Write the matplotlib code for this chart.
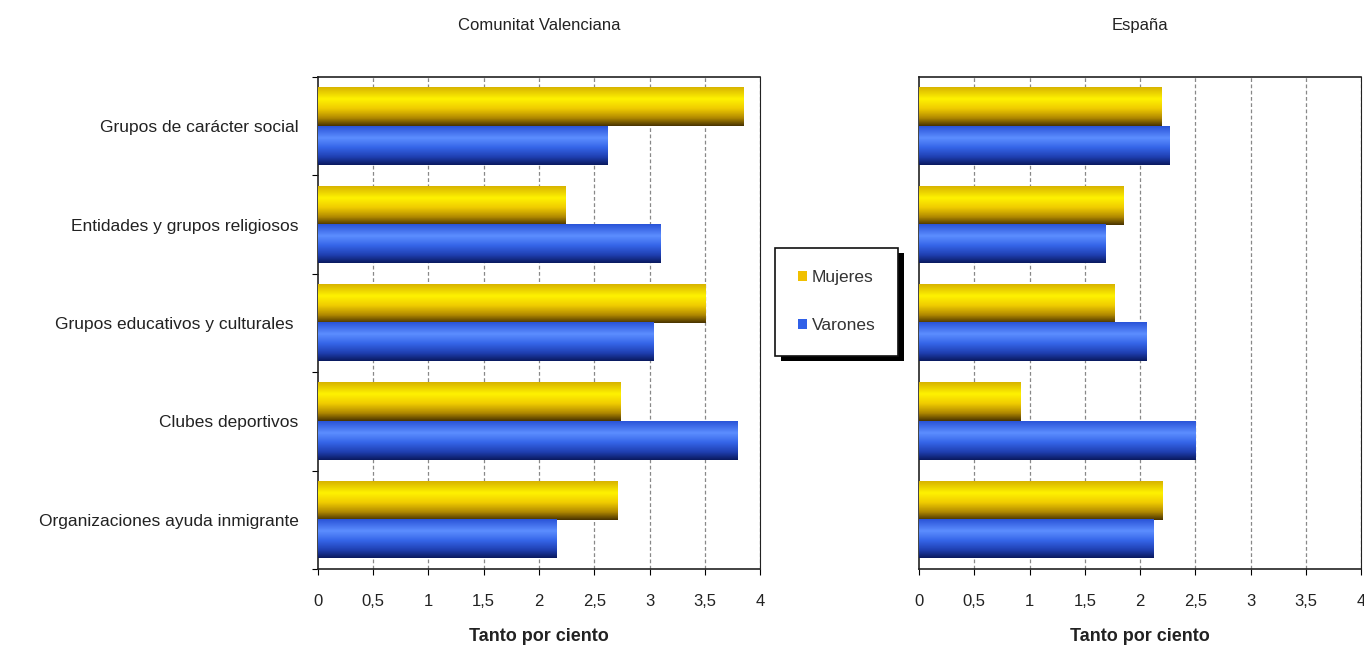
import matplotlib
matplotlib.use("Agg")
import matplotlib.pyplot as plt
import matplotlib.patheffects as pe
import numpy as np
from matplotlib.colors import LinearSegmentedColormap
from matplotlib.patches import Patch

plt.rcParams['font.family'] = ['Liberation Sans', 'DejaVu Sans']

categorias = ['Grupos de carácter social', 'Entidades y grupos religiosos',
              'Grupos educativos y culturales ', 'Clubes deportivos',
              'Organizaciones ayuda inmigrante']
series = ['Mujeres', 'Varones']

cv_mujeres = [3.85, 2.24, 3.51, 2.74, 2.71]
cv_varones = [2.62, 3.10, 3.04, 3.80, 2.16]
es_mujeres = [2.19, 1.85, 1.77, 0.92, 2.20]
es_varones = [2.27, 1.69, 2.06, 2.50, 2.12]

xticks = [0, 0.5, 1, 1.5, 2, 2.5, 3, 3.5, 4]
xticklabels = ['0', '0,5', '1', '1,5', '2', '2,5', '3', '3,5', '4']

# vertical shading for the "3D" bars (top -> bottom)
cmap_yellow = LinearSegmentedColormap.from_list(
    'amarillo', [(0, '#d8b400'), (0.3, '#fff200'), (0.55, '#f0cc00'),
                 (0.8, '#b08800'), (1, '#4a3400')])
cmap_blue = LinearSegmentedColormap.from_list(
    'azul', [(0, '#2a54d8'), (0.3, '#5c8eff'), (0.55, '#3565e8'),
             (0.8, '#1f3fb0'), (1, '#0a1a60')])
grad = np.linspace(0, 1, 64)[:, None]

BAR_H = 0.39
TXT = '#222222'


def shaded_bars(ax, y, values, cmap, color):
    bars = ax.barh(y, values, height=BAR_H, color=color, zorder=2)
    for b in bars:
        x0, y0, w, h = b.get_x(), b.get_y(), b.get_width(), b.get_height()
        # y axis is inverted, so image row 0 lands at the top of the bar
        ax.imshow(grad, cmap=cmap, aspect='auto', interpolation='bilinear',
                  extent=[x0, x0 + w, y0 + h, y0], zorder=3)
    return bars


def panel(ax, mujeres, varones, title, labels):
    y = np.arange(len(categorias))
    shaded_bars(ax, y - BAR_H / 2, mujeres, cmap_yellow, '#f0d000')
    shaded_bars(ax, y + BAR_H / 2, varones, cmap_blue, '#3060e0')
    ax.set_xlim(0, 4)
    ax.set_ylim(len(categorias) - 0.5, -0.5)
    ax.set_xticks(xticks)
    ax.set_xticklabels(xticklabels, fontsize=12, color=TXT)
    for xv in xticks[1:]:
        ax.axvline(xv, color='#888888', lw=0.9, ls=(0, (3, 2)), zorder=1)
    if labels:
        ax.set_yticks(np.arange(len(categorias) + 1) - 0.5)
        ax.set_yticklabels([])
        ax.set_yticks(y, minor=True)
        ax.set_yticklabels(categorias, minor=True, fontsize=12.5, color=TXT)
        ax.tick_params(axis='y', which='minor', length=0, pad=14)
        ax.tick_params(axis='y', which='major', length=4, direction='out')
    else:
        ax.set_yticks([])
    ax.tick_params(axis='x', length=4, direction='out', pad=14)
    ax.set_xlabel('Tanto por ciento', fontsize=13, fontweight='bold',
                  color=TXT, labelpad=14)
    ax.set_title(title, fontsize=12, color=TXT, pad=34)
    for s in ['top', 'left', 'bottom']:
        ax.spines[s].set_color(TXT)
        ax.spines[s].set_linewidth(1.2)
    ax.spines['right'].set_linestyle((0, (2, 1)))
    ax.spines['right'].set_color(TXT)


fig = plt.figure(figsize=(13.64, 6.49), dpi=100)
ax1 = fig.add_axes([0.2331, 0.1233, 0.3241, 0.758])
ax2 = fig.add_axes([0.6738, 0.1233, 0.3241, 0.758])

panel(ax1, cv_mujeres, cv_varones, 'Comunitat Valenciana', True)
panel(ax2, es_mujeres, es_varones, 'España', False)

handles = [Patch(facecolor='#f0c000', edgecolor='none'),
           Patch(facecolor='#3060e8', edgecolor='none')]
leg = fig.legend(handles, series, loc='center', bbox_to_anchor=(0.6135, 0.535),
                 fontsize=12.5, frameon=True, fancybox=False, framealpha=1.0,
                 handlelength=0.5, handleheight=0.5, handletextpad=0.3,
                 labelspacing=1.9, borderpad=1.3, borderaxespad=0)
frame = leg.get_frame()
frame.set_edgecolor('#111111')
frame.set_linewidth(1.2)
frame.set_path_effects([pe.SimplePatchShadow(offset=(4, -4), shadow_rgbFace='black',
                                             alpha=1.0), pe.Normal()])
for t in leg.get_texts():
    t.set_color('#333333')

fig.savefig('out.png', dpi=100)
